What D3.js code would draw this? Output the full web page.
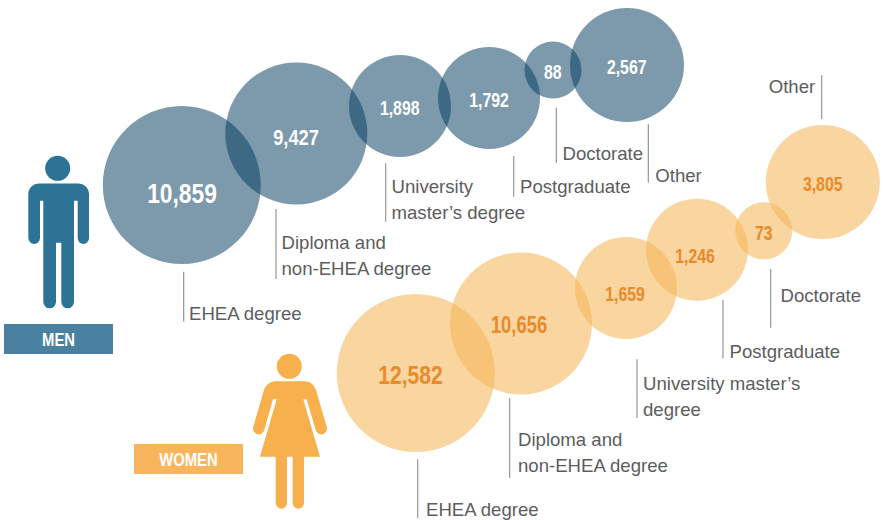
<!DOCTYPE html>
<html>
<head>
<meta charset="utf-8">
<title>Graduates by sex and type of degree</title>
<script src="https://cdn.jsdelivr.net/npm/d3@7"></script>
<style>
  html, body { margin: 0; padding: 0; background: #fff; }
  svg { display: block; }
  text { font-family: "Liberation Sans", Arial, sans-serif; }
</style>
</head>
<body>
<div id="chart"></div>
<script>
const categories = ["EHEA", "Diploma", "Master", "Postgraduate", "Doctorate", "Other"];
const menValues = [10859, 9427, 1898, 1792, 88, 2567];
const womenValues = [12582, 10656, 1659, 1246, 73, 3805];
const menLabels = [
  ["EHEA degree"],
  ["Diploma and", "non-EHEA degree"],
  ["University", "master’s degree"],
  ["Postgraduate"],
  ["Doctorate"],
  ["Other"],
];
const womenLabels = [
  ["EHEA degree"],
  ["Diploma and", "non-EHEA degree"],
  ["University master’s", "degree"],
  ["Postgraduate"],
  ["Doctorate"],
  ["Other"],
];

const width = 883,
  height = 520;

const svg = d3
  .select("#chart")
  .append("svg")
  .attr("width", width)
  .attr("height", height);

// bubbles are not to scale in the original, sizes go in steps
const radius = d3
  .scaleLinear()
  .domain([73, 88, 1246, 1898, 2567, 3805, 9427, 10656, 10859, 12582])
  .range([28.5, 28.5, 51, 51, 57, 57, 71, 71, 79, 79]);

function ordinal(range) {
  return d3.scaleOrdinal().domain(categories).range(range);
}

const groups = [
  {
    values: menValues,
    labels: menLabels,
    fill: "rgb(3,61,95)",
    opacity: 0.52,
    valueColor: "#fff",
    cx: ordinal([181.8, 296.3, 400, 489, 553, 627]),
    cy: ordinal([185, 133.5, 106, 98, 70, 65]),
    valueX: ordinal([182, 296, 399.7, 489, 552.7, 626.7]),
    valueY: ordinal([202.5, 145, 115, 107, 79, 74]),
    valueSize: ordinal([28.5, 22.8, 19.8, 19.8, 19.8, 19.8]),
    lineX: ordinal([183.7, 276, 385.7, 513.7, 556.3, 648.3]),
    lineY1: ordinal([271.7, 209, 163.3, 156, 107.7, 124.3]),
    lineY2: ordinal([321.7, 279, 221.7, 196.7, 162.7, 182.7]),
    labelX: ordinal([189, 281.5, 391.5, 520, 562.5, 655.3]),
    labelY: ordinal([320, 249, 193, 192.7, 160, 182]),
    labelGap: 26,
  },
  {
    values: womenValues,
    labels: womenLabels,
    fill: "rgb(245,183,90)",
    opacity: 0.58,
    valueColor: "#e98a2b",
    cx: ordinal([415.8, 521, 626, 697, 763.8, 822.8]),
    cy: ordinal([373, 323.5, 288, 249.7, 230.8, 182]),
    valueX: ordinal([410.5, 519, 625, 695, 763.7, 822.7]),
    valueY: ordinal([384.3, 332.7, 301, 263, 240, 190.7]),
    valueSize: ordinal([26.3, 23, 19.8, 19.8, 19.8, 19.8]),
    lineX: ordinal([417.7, 509.7, 637, 723, 770.7, 821.7]),
    lineY1: ordinal([459.3, 398.3, 359.3, 300, 269.3, 75.3]),
    lineY2: ordinal([518.3, 478, 418, 358.3, 327.7, 119]),
    labelX: ordinal([426, 518, 643, 729.5, 780.5, 768.7]),
    labelY: ordinal([516, 446, 390, 357.7, 301.7, 93.3]),
    labelGap: 26,
  },
];

groups.forEach(function (g) {
  var rows = categories.map(function (c, i) {
    return { category: c, value: g.values[i], label: g.labels[i] };
  });

  var layer = svg.append("g");

  layer
    .selectAll("line")
    .data(rows)
    .enter()
    .append("line")
    .attr("x1", (d) => g.lineX(d.category))
    .attr("x2", (d) => g.lineX(d.category))
    .attr("y1", (d) => g.lineY1(d.category))
    .attr("y2", (d) => g.lineY2(d.category))
    .attr("stroke", "#8a8c8e")
    .attr("stroke-width", 1.1);

  layer
    .selectAll("circle")
    .data(rows)
    .enter()
    .append("circle")
    .attr("cx", (d) => g.cx(d.category))
    .attr("cy", (d) => g.cy(d.category))
    .attr("r", (d) => radius(d.value))
    .attr("fill", g.fill)
    .attr("fill-opacity", g.opacity);

  // condensed bold numbers, no condensed font installed so squeeze it
  layer
    .selectAll("text.value")
    .data(rows)
    .enter()
    .append("text")
    .attr("class", "value")
    .attr("transform", function (d) {
      return (
        "translate(" + g.valueX(d.category) + "," + g.valueY(d.category) + ") scale(0.8,1)"
      );
    })
    .attr("text-anchor", "middle")
    .attr("font-weight", "bold")
    .attr("font-size", (d) => g.valueSize(d.category))
    .attr("fill", g.valueColor)
    .text((d) => d3.format(",")(d.value));

  var labels = layer
    .selectAll("text.label")
    .data(rows)
    .enter()
    .append("text")
    .attr("class", "label")
    .attr("font-size", 18.6)
    .attr("fill", "#5c5d5f");

  labels
    .selectAll("tspan")
    .data(function (d) {
      return d.label.map(function (line, i) {
        return { category: d.category, line: line, i: i };
      });
    })
    .enter()
    .append("tspan")
    .attr("x", (d) => g.labelX(d.category))
    .attr("y", (d) => g.labelY(d.category) + d.i * g.labelGap)
    .text((d) => d.line);
});

// men icon and banner
const menColor = "#2c7396",
  womenColor = "#f7b04b";

svg.append("circle").attr("cx", 57.7).attr("cy", 168.3).attr("r", 12.5).attr("fill", menColor);
svg
  .append("path")
  .attr("fill", menColor)
  .attr(
    "d",
    "M39 183.5H78.5A10.5 10.5 0 0 1 89 194V238A5.65 6 0 0 1 77.7 238V200.7H74V302A6.35 6.35 0 0 1 61.3 302V242.7H56V302A6.35 6.35 0 0 1 43.3 302V200.7H40V238A5.85 6 0 0 1 28.3 238V194A10.5 10.5 0 0 1 39 183.5Z",
  );
svg.append("rect").attr("x", 4).attr("y", 324).attr("width", 109).attr("height", 30).attr("fill", "#4a80a0");
svg
  .append("text")
  .attr("transform", "translate(58.5,345.5) scale(0.8,1)")
  .attr("text-anchor", "middle")
  .attr("font-weight", "bold")
  .attr("font-size", 18.5)
  .attr("fill", "#fff")
  .text("MEN");

// women icon and banner
svg.append("circle").attr("cx", 289.3).attr("cy", 366.3).attr("r", 12.5).attr("fill", womenColor);
svg
  .append("path")
  .attr("fill", womenColor)
  .attr(
    "d",
    "M275 381.3H304A12 12 0 0 1 316 390L326.5 426A5.8 5.8 0 0 1 316 431L306.7 399.3H303.3L320 456.7H304V503A5.6 5.6 0 0 1 292.7 503V456.7H287V503A5.6 5.6 0 0 1 275.7 503V456.7H260L276.7 399.3H273L264 431A5.8 5.8 0 0 1 253.5 426L264 390A12 12 0 0 1 275 381.3Z",
  );
svg.append("rect").attr("x", 134).attr("y", 444).attr("width", 109).attr("height", 30).attr("fill", "#f9b55c");
svg
  .append("text")
  .attr("transform", "translate(188.5,465.5) scale(0.8,1)")
  .attr("text-anchor", "middle")
  .attr("font-weight", "bold")
  .attr("font-size", 18.5)
  .attr("fill", "#fff")
  .text("WOMEN");
</script>
</body>
</html>
